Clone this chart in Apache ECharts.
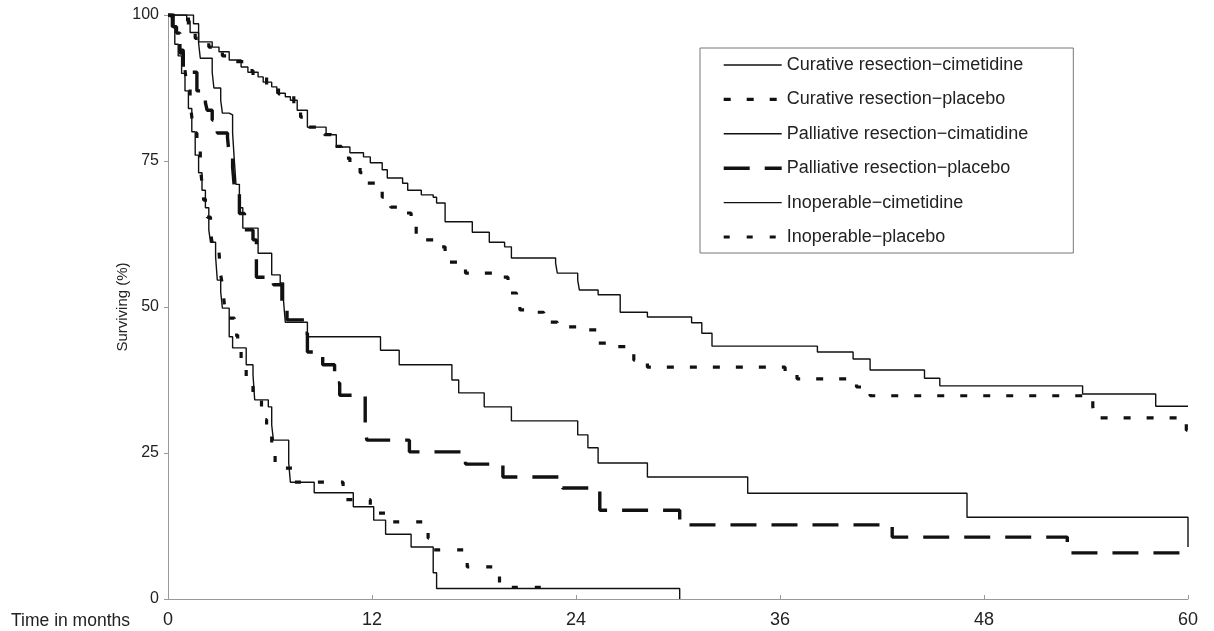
<!DOCTYPE html>
<html>
<head>
<meta charset="utf-8">
<script src="https://cdn.jsdelivr.net/npm/echarts@6/dist/echarts.min.js"></script>
<style>
html,body{margin:0;padding:0;background:#fff;}
#chart{width:1214px;height:631px;}
</style>
</head>
<body>
<div id="chart"></div>
<script>
// ---- Data (months, surviving %) ----
const seriesNames = [
  'Curative resection\u2212cimetidine',
  'Curative resection\u2212placebo',
  'Palliative resection\u2212cimatidine',
  'Palliative resection\u2212placebo',
  'Inoperable\u2212cimetidine',
  'Inoperable\u2212placebo'
];
const xTicks = [0, 12, 24, 36, 48, 60];
const yTicks = [0, 25, 50, 75, 100];

const curCimT = [0, 1.5, 1.8, 2.6, 3.0, 3.6, 4.3, 4.7, 5.3, 5.6, 6.1, 6.4, 6.9, 7.2, 7.6, 8.2, 9.3, 9.9, 10.7, 11.5, 11.9, 12.6, 12.9, 13.8, 14.1, 14.9, 15.6, 15.8, 16.3, 17.9, 18.9, 19.8, 20.2, 22.8, 22.9, 24.1, 24.2, 25.3, 26.6, 28.2, 30.8, 31.4, 32.0, 38.2, 40.3, 41.3, 44.5, 45.4, 53.8, 58.1, 60];
const curCimS = [100, 98.5, 95.4, 94.5, 93.7, 92.3, 91.1, 90.2, 89.4, 88.5, 87.7, 86.6, 86.0, 85.4, 83.7, 80.8, 79.5, 77.4, 76.4, 75.7, 74.7, 73.5, 72.1, 71.2, 70.0, 69.2, 68.8, 67.8, 64.6, 62.8, 61.1, 60.3, 58.4, 57.5, 55.8, 54.6, 52.9, 52.1, 49.1, 48.3, 47.3, 45.5, 43.3, 42.3, 41.1, 39.2, 37.8, 36.5, 35.1, 33.0, 33.0];

const curPlaT = [0, 1.2, 1.6, 2.4, 3.2, 3.8, 4.5, 5.0, 5.8, 6.5, 7.4, 7.8, 8.3, 9.2, 9.6, 10.2, 10.7, 11.3, 11.7, 12.6, 13.1, 13.8, 14.3, 14.6, 15.7, 16.3, 17.5, 19.7, 20.0, 20.5, 20.7, 21.5, 22.1, 22.9, 24.2, 25.2, 26.4, 27.4, 28.2, 36.3, 37.0, 40.5, 41.3, 54.4, 54.5, 59.9, 60];
const curPlaS = [100, 98.0, 96.0, 94.5, 93.0, 92.0, 90.5, 89.5, 88.0, 86.5, 84.5, 82.5, 80.8, 79.5, 77.5, 75.5, 74.0, 73.0, 71.2, 68.8, 67.1, 66.1, 64.9, 61.5, 60.3, 57.7, 55.8, 55.1, 52.4, 51.2, 49.5, 49.1, 47.4, 46.6, 46.1, 43.8, 43.2, 40.9, 39.7, 38.9, 37.7, 36.3, 34.8, 32.9, 31.0, 28.9, 28.9];

const palCimT = [0, 1.1, 1.3, 1.8, 1.9, 2.6, 2.7, 3.1, 3.2, 3.6, 3.8, 3.9, 4.0, 4.2, 4.4, 5.3, 6.1, 6.6, 6.8, 6.9, 8.2, 12.5, 13.6, 16.7, 17.1, 18.6, 20.2, 24.1, 24.7, 25.3, 28.2, 34.1, 47.0, 60, 60];
const palCimS = [100, 99.0, 97.0, 95.2, 92.6, 90.2, 87.5, 85.4, 83.2, 82.9, 79.8, 75.2, 71.0, 67.0, 63.5, 59.2, 55.5, 54.1, 50.9, 47.4, 44.9, 42.6, 40.1, 37.5, 35.3, 32.9, 30.5, 28.1, 25.9, 23.3, 20.9, 18.1, 14.0, 14.0, 8.9];

const palPlaT = [0, 0.3, 0.5, 0.7, 0.9, 1.7, 2.2, 2.3, 2.6, 2.9, 3.5, 3.6, 3.8, 3.9, 4.2, 4.5, 5.0, 5.2, 6.2, 6.7, 7.0, 8.0, 8.2, 9.1, 9.8, 10.1, 11.6, 11.7, 14.2, 17.5, 19.7, 23.2, 25.4, 30.1, 42.6, 52.9, 59.5];
const palPlaS = [100, 98.0, 96.0, 93.5, 90.2, 87.0, 85.0, 83.7, 82.0, 79.8, 79.0, 76.0, 74.0, 70.5, 66.0, 63.2, 61.5, 55.1, 53.8, 49.5, 47.8, 45.5, 42.3, 40.1, 37.0, 34.9, 28.9, 27.2, 25.2, 23.1, 20.9, 19.0, 15.2, 12.7, 10.6, 7.9, 7.9];

const inoCimT = [0, 0.2, 0.4, 0.6, 0.8, 1.0, 1.2, 1.4, 1.6, 1.8, 2.0, 2.2, 2.4, 2.5, 2.8, 2.9, 3.1, 3.2, 3.6, 3.8, 4.6, 5.0, 5.1, 5.9, 6.1, 6.2, 7.1, 7.2, 8.6, 10.9, 12.1, 12.8, 14.3, 15.6, 15.8, 30.1];
const inoCimS = [100, 98.0, 95.0, 93.0, 90.0, 87.0, 84.0, 80.0, 76.0, 73.0, 70.0, 67.0, 63.2, 61.1, 58.6, 54.6, 52.6, 49.8, 44.9, 43.0, 40.1, 38.4, 34.1, 32.9, 29.8, 27.2, 23.3, 20.0, 18.2, 15.8, 13.5, 11.1, 8.9, 4.5, 1.8, 0];

const inoPlaT = [0, 0.2, 0.3, 0.5, 0.7, 0.9, 1.0, 1.1, 1.3, 1.4, 1.5, 1.7, 1.9, 2.0, 2.1, 2.3, 2.5, 2.6, 3.0, 3.1, 3.2, 3.3, 3.4, 3.9, 4.1, 4.3, 4.6, 5.0, 5.5, 5.8, 6.1, 6.3, 7.4, 10.3, 11.9, 12.9, 15.3, 15.5, 17.6, 19.5, 22.0];
const inoPlaS = [100, 99.0, 97.5, 96.9, 94.0, 92.3, 90.6, 88.0, 85.4, 82.5, 79.8, 76.9, 74.0, 71.2, 68.3, 65.4, 62.7, 61.0, 59.4, 55.5, 53.8, 50.9, 48.1, 45.2, 42.3, 39.7, 37.0, 34.1, 30.7, 28.4, 25.2, 22.4, 20.0, 17.0, 14.7, 13.2, 10.4, 8.4, 5.5, 2.0, 2.0];

function zip(t, s) { return t.map((v, i) => [v, s[i]]); }

const lineStyles = [
  { color: '#111', width: 1.4, type: 'solid' },
  { color: '#111', width: 3.2, type: [7, 16] },
  { color: '#111', width: 1.4, type: 'solid' },
  { color: '#111', width: 3.4, type: [26, 15] },
  { color: '#111', width: 1.4, type: 'solid' },
  { color: '#111', width: 3.2, type: [6, 17] }
];
const dataSets = [
  zip(curCimT, curCimS), zip(curPlaT, curPlaS),
  zip(palCimT, palCimS), zip(palPlaT, palPlaS),
  zip(inoCimT, inoCimS), zip(inoPlaT, inoPlaS)
];

const FONT = 'Liberation Sans, Arial, sans-serif';

const chart = echarts.init(document.getElementById('chart'), null, { renderer: 'canvas' });
chart.setOption({
  animation: false,
  backgroundColor: '#fff',
  grid: { left: 168, right: 26, top: 15, bottom: 32, containLabel: false },
  legend: {
    orient: 'vertical',
    left: 700,
    top: 48,
    itemWidth: 58,
    itemHeight: 14,
    itemGap: 16.4,
    padding: [8, 45, 7, 22],
    borderColor: '#777',
    borderWidth: 1,
    itemStyle: { opacity: 0 },
    textStyle: { fontFamily: FONT, fontSize: 18, color: '#222' },
    data: seriesNames.map((n, i) => ({
      name: n,
      lineStyle: { width: lineStyles[i].width, type: lineStyles[i].type, color: '#111' }
    }))
  },
  xAxis: {
    type: 'value', min: 0, max: 60, interval: 12,
    name: 'Time in months',
    nameLocation: 'start',
    nameGap: 38,
    nameTextStyle: { fontFamily: FONT, fontSize: 17.5, color: '#222', verticalAlign: 'top', padding: [13, 0, 0, 0] },
    axisLine: { lineStyle: { color: '#999', width: 1 } },
    axisTick: { inside: true, length: 4, lineStyle: { color: '#999' } },
    axisLabel: { fontFamily: FONT, fontSize: 18, color: '#222', margin: 12,
      formatter: v => xTicks.indexOf(v) >= 0 ? String(v) : '' },
    splitLine: { show: false }
  },
  yAxis: {
    type: 'value', min: 0, max: 100, interval: 25,
    name: 'Surviving (%)',
    nameLocation: 'middle',
    nameGap: 45,
    nameMoveOverlap: false,
    nameRotate: 90,
    nameTextStyle: { fontFamily: FONT, fontSize: 15, color: '#222', verticalAlign: 'middle' },
    axisLine: { show: true, lineStyle: { color: '#999', width: 1 } },
    axisTick: { show: true, length: 4, lineStyle: { color: '#999' } },
    axisLabel: { fontFamily: FONT, fontSize: 16, color: '#222', margin: 9,
      formatter: v => yTicks.indexOf(v) >= 0 ? String(v) : '' },
    splitLine: { show: false }
  },
  series: seriesNames.map((n, i) => ({
    name: n,
    type: 'line',
    step: 'end',
    symbol: 'none',
    data: dataSets[i],
    lineStyle: lineStyles[i],
    itemStyle: { color: '#111' },
    z: i % 2 === 1 ? 3 : 2
  }))
});
</script>
</body>
</html>
